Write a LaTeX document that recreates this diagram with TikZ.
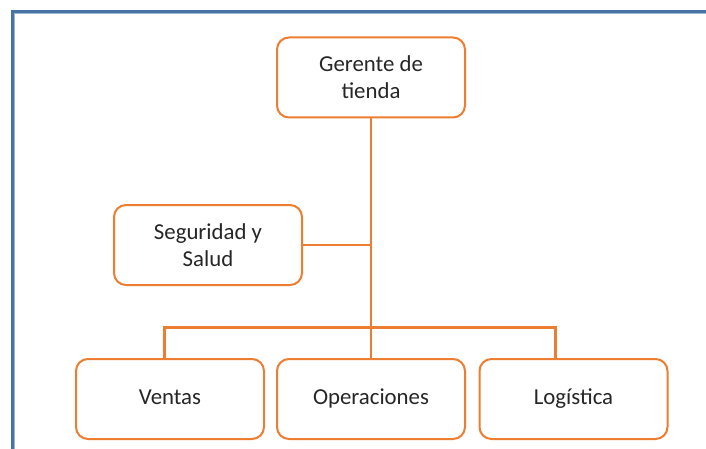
\documentclass[tikz,border=0pt]{standalone}
\usepackage{fontspec}
\setmainfont{Carlito}
\definecolor{orgline}{HTML}{ED7D31}
\definecolor{frameblue}{HTML}{4672A4}
\definecolor{framelight}{HTML}{9DB5D3}
\definecolor{txt}{HTML}{262626}
\begin{document}
\begin{tikzpicture}[x=1pt,y=-1pt,
  orgbox/.style={draw=orgline, line width=2pt, rounded corners=12pt, fill=white,
    minimum width=188pt, minimum height=80pt, align=center, text=txt,
    font=\fontsize{22.8}{27}\selectfont, inner sep=0pt},
  onebox/.style={orgbox, text height=15pt, text depth=5pt},
  conn/.style={draw=orgline, line width=2pt},
  bus/.style={draw=orgline, line width=3pt}]
\useasboundingbox (0,0) rectangle (706,449);
\fill[white] (0,0) rectangle (706,449);
% frame
\draw[frameblue, line width=3pt] (12.5,452) -- (12.5,11.5) -- (709,11.5);
\draw[framelight, line width=0.8pt] (14.4,452) -- (14.4,13.4) -- (709,13.4);
% nodes
\node[orgbox] (ger) at (371,77.5) {Gerente de\\tienda};
\node[orgbox] (seg) at (208,245) {Seguridad y\\Salud};
\node[onebox] (ven) at (170,399) {Ventas};
\node[onebox] (ope) at (371,399) {Operaciones};
\node[onebox] (log) at (573.5,399) {Logística};
% connectors
\coordinate (j1) at (371,245);
\coordinate (bl) at (164,327);
\coordinate (br) at (555,327);
\draw[conn] (ger.south) -- (ope.north);
\draw[conn] (seg.east) -- (j1);
\draw[bus] (bl |- ven.north) -- (bl) -- (br) -- (br |- log.north);
\end{tikzpicture}
\end{document}
